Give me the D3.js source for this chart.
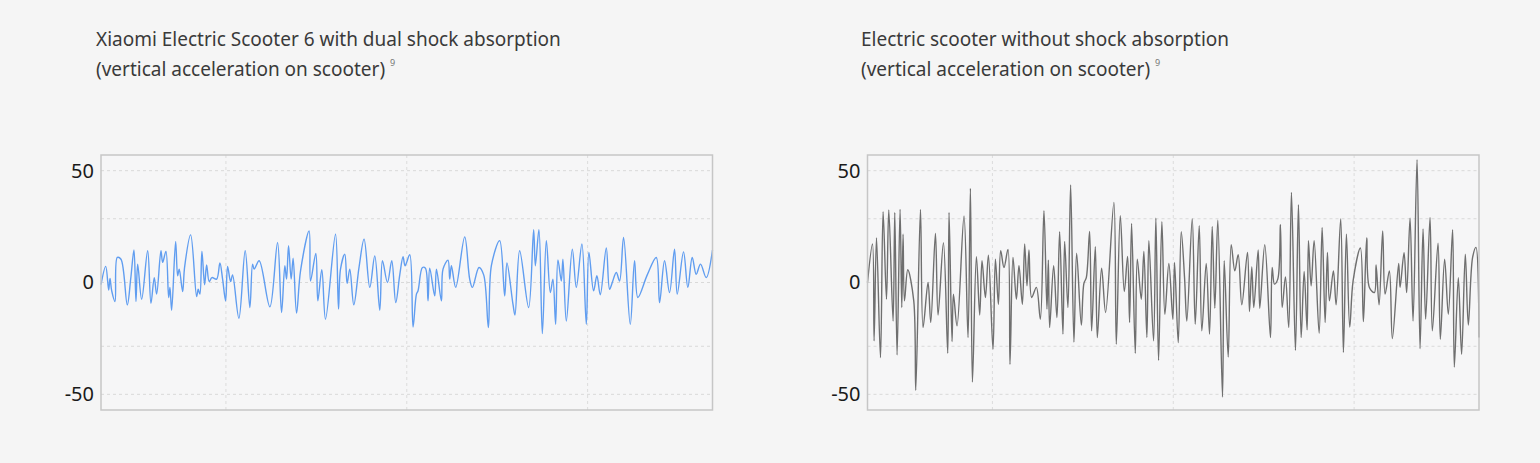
<!DOCTYPE html>
<html>
<head>
<meta charset="utf-8">
<script src="https://cdn.jsdelivr.net/npm/d3@7"></script>
<style>
  html, body { margin: 0; padding: 0; background: #f5f5f5; }
  svg { display: block; }
  .title { font-family: "Noto Sans", sans-serif; fill: #3a3a3a; }
  .tick text { font-family: "Noto Sans", sans-serif; font-size: 20px; fill: #1a1a1a; }
</style>
</head>
<body>
<div id="chart"></div>
<script>
// vertical acceleration (time in samples, value in m/s²)
const dualTime = [0, 4.7, 7.7, 9, 10.7, 14, 16.3, 20, 26.3, 29.7, 33, 35, 36.7, 40.7, 46.7, 50, 53.3, 55.7, 60, 61.7,
  65, 67.7, 69, 70.7, 74.7, 76.7, 78.3, 81.7, 83.7, 89.7, 95.7, 97.3, 99, 101, 103.7, 105.7, 108.3, 111, 115.7, 119,
  121.7, 124.7, 126.7, 129.7, 131.7, 138, 144.3, 149, 151.7, 153.3, 158.3, 169, 176.7, 180.7, 184, 185.7, 187.7, 190.3, 192.3, 195.7,
  199.7, 208.3, 209.7, 215, 217, 221, 224.7, 234.7, 237.7, 239.7, 244, 246.3, 249, 253, 258.3, 263.3, 269, 274, 279, 281.7,
  286.7, 291, 295, 299, 302.3, 304.3, 309, 312.3, 315.7, 317.3, 321.7, 324.7, 327.3, 329, 334, 335.7, 340.7, 342.3, 347.3, 349,
  350.7, 355, 364, 369, 371.7, 378.3, 383, 387.7, 390.7, 399, 404, 406.3, 412.3, 414.3, 419, 428, 433, 434.7, 438.3, 441.7,
  445.7, 449.7, 452.3, 455, 457.3, 460.7, 462.3, 465.7, 471.7, 475.7, 481.3, 485.7, 488.3, 493, 496.3, 499.7, 505.7, 509, 511.7, 515.7,
  519, 523, 529.7, 534, 537.3, 546.7, 555.7, 559, 564, 569, 574, 576.7, 583, 587.3, 591.7, 595.7, 600, 605.7, 612]
const dualValue = [-1, 7.2, -3.4, 1.8, -3.7, -8.5, 11.2, 10.4, -10, 1.5, 14.5, -8.5, 8.2, -7.5, 14.2, -9.3, 2.2, -5.2, 14.2, 9,
  13.9, -6.7, -2.2, -12.4, 18.4, 3, 6, -4, 7, 21.3, -6.3, -3, -5.2, 13.9, -1, 7.9, 0.4, 2.2, 1.5, 8.7,
  1.5, -8.2, 7.2, 0.4, 3.4, -16, 14.2, -11.2, 8.2, 6, 9.7, -10.9, 17.9, -13.4, 7.5, 1.5, 16.4, 1.5, 10.9, -13.7,
  5.2, 23.1, 0.7, 13, -8.2, 5.7, -16.4, 21.6, -11.9, 6, 12.7, -0.4, 6, -10, 7, 19.4, -2.2, 11.9, -12.4, 9.7,
  0, 9.7, -9, 3.4, 11.5, 7.5, 12.4, -19.9, -5.2, -3.7, 6.7, 6.4, -8.2, 6.4, -6, 6, -8.2, 6, 10, 1.5,
  7.5, -2.2, 20.4, 1.5, -2.2, 6.7, 3.4, -20.1, 7.5, 18.7, -6, 8.7, -9.7, -14.5, 14.2, -11.2, 23.6, 7.5, 23.6, -22.8,
  18.7, -4.5, 1.5, -18.7, 10.1, 0.7, 10.4, -17.2, 14.9, -2.2, 17.2, -18.7, 13.4, -3.7, 3, -5.5, 15.4, -3, 0, 4.5,
  0.7, 20.1, -18.7, 9.7, -6.7, 3.4, 11.2, -9, 9.7, -4.5, 14.9, -5.2, 13.7, -2.2, 11.2, 3.7, 8.2, 2.2, 14.5]

const plainTime = [0, 5, 6.6, 9, 13, 15.6, 19, 21.3, 25.6, 27.3, 29.6, 32.6, 34.3, 35.6, 37, 40.3, 46.3, 48.3, 53, 55.6,
  60.6, 63.3, 68, 70.6, 76, 80.3, 81.6, 84.6, 86, 89.6, 96.6, 100.6, 103, 105, 109, 112.3, 114.6, 118, 121, 125.6,
  128, 131, 133.3, 136.6, 140.6, 142.6, 145.6, 149, 151.6, 155, 157.3, 159.6, 161.6, 164.3, 169, 173, 176.6, 179.6, 181, 182.3,
  186.3, 189.6, 192.3, 195.6, 197.3, 200.6, 203.3, 206.6, 209.3, 214, 216.6, 219, 222.3, 224.3, 228, 230, 234.3, 238.3, 246.6, 249,
  253, 257, 260.3, 262.3, 264.3, 268, 270, 274, 276.6, 279.6, 281.6, 286.3, 288.6, 291.3, 294.6, 297.6, 301.6, 305.6, 307.3, 311,
  314, 317.3, 319.6, 325, 328, 332, 334.6, 339, 342.3, 345, 347.6, 350.6, 355.3, 357, 361, 364, 367.6, 371, 374.6, 380.3,
  382.3, 384.6, 386.6, 391, 392.6, 397.6, 403.3, 405, 407.3, 410.6, 413.3, 415, 418.3, 421.6, 424.3, 428.3, 431.3, 434, 437, 440,
  441.3, 444, 447, 452, 455, 458, 460.3, 462.3, 466.3, 469, 473.6, 476.3, 479.3, 482.6, 486, 493.3, 496.3, 499.6, 502.3, 507.3,
  509, 512, 515.6, 518, 522.3, 525.3, 531.6, 533, 537, 539.6, 543, 546, 550, 553, 556, 558.6, 563, 565.3, 571, 573.3,
  577.6, 581.3, 585.6, 587.3, 591.3, 594.6, 598.3, 601.3, 605.6, 609, 612]
const plainValue = [0, 17.2, -26.1, 19.9, -33.6, 31.6, -7.5, 32.4, -17.2, 31.3, -32.4, 32.7, -11.2, 21.6, -8.2, 5.7, -8.2, -48.2, 32.7, -20.1,
  0, -17.9, 21.9, -14.5, 17.8, -31.6, 31.3, -26.4, -5.2, -19.4, 29.7, -24.6, 42.1, -44.5, 11.5, -14.5, 9.7, -6.7, 12.2, -29.9,
  10.4, -9.7, 14.2, 6.7, 14.8, -36.6, 11.2, -7.5, 7.5, -9.7, 17.2, -1.5, 14.6, -6.7, -2.2, -16.4, 32.1, -11.9, 10, -20.1,
  7.5, -15.7, 22.7, -23.1, 18.4, -11.2, 43.6, -26.6, 13.1, -19, -0.4, 2.2, 22.8, -21.6, 16, -24.6, 6.4, -13.4, 35.8, -27.6,
  29.9, -4, 11.6, -17.9, 26.4, -31.6, 10.4, -7.5, 13.9, -24.6, 18.7, -26.1, 28.7, -34.8, 27.2, -14.2, 8.5, -16.4, 9, -26.9,
  22.7, 2.2, -17.2, 28.4, -18.7, 25.4, -21.6, 8.5, -23.1, 25.1, -11.5, 27.9, -51.2, 9.7, -33.3, 16.9, 5.2, 12.4, -10, 13.4,
  -13, 7, -11.2, 14.6, -11.5, 16.9, -24.6, 6.7, -0.7, 1.5, 25.8, -11.2, 2.5, -20.1, 40.3, -30.3, 34.8, -24.6, 4.9, -21.2,
  18.7, -1.5, 18.7, -22.7, 24.6, -17.9, 13.4, -8.2, 5.2, -10, 28.4, -31.3, 21.6, -19.9, 0.7, 15.4, -17.5, 19.9, -2.2, -4.5,
  7.9, -10, 23.1, -5.2, 5.2, -25.1, 8.5, -2.2, 13.3, -4.5, 28.7, -17.2, 54.9, -29.6, 23.9, -16.4, 29.1, -21.6, 17.6, -25.4,
  10.4, -14.2, 23.6, -37.8, 2.2, -32.1, 12.7, -19, 11.2, 15.7, -24.6]

const yDomain = [-57, 57]
const xDomain = [0, 612]
const yTickLabels = [50, 0, -50]
const yGridValues = [50, 28.5, 0, -28.5, -50]
const xGridValues = [125, 306, 487]

const panels = [
  { title: 'Xiaomi Electric Scooter 6 with dual shock absorption', time: dualTime, value: dualValue, color: '#609df0', left: 101, titleX: 96 },
  { title: 'Electric scooter without shock absorption', time: plainTime, value: plainValue, color: '#6f6f6f', left: 867.5, titleX: 861 }
]
const subtitle = '(vertical acceleration on scooter)'
const note = '9'

const W = 1540, H = 463
const plotW = 611.5, plotTop = 155, plotBottom = 410

const svg = d3.select('#chart').append('svg')
  .attr('width', W)
  .attr('height', H)

panels.forEach(p => drawPanel(p))

function drawPanel(p) {
  let x = d3.scaleLinear().domain(xDomain).range([p.left, p.left + plotW])
  let y = d3.scaleLinear().domain(yDomain).range([plotBottom, plotTop])

  // titles
  let t = svg.append('g')
  t.append('text').attr('class', 'title')
    .attr('x', p.titleX).attr('y', 46)
    .style('font-size', '19px')
    .text(p.title)
  let sub = t.append('text').attr('class', 'title')
    .attr('x', p.titleX).attr('y', 76)
    .style('font-size', '19px')
    .text(subtitle)
  let subW = sub.node().getComputedTextLength()
  t.append('text')
    .attr('x', p.titleX + subW + 5).attr('y', 66)
    .style('font-family', '"Noto Sans", sans-serif')
    .style('font-size', '9px')
    .style('fill', '#777')
    .text(note)

  let g = svg.append('g')

  g.append('rect')
    .attr('x', p.left).attr('y', plotTop)
    .attr('width', plotW).attr('height', plotBottom - plotTop)
    .attr('fill', '#f6f6f7')

  g.selectAll('.hgrid')
    .data(yGridValues)
    .enter().append('line')
    .attr('class', 'hgrid')
    .attr('x1', p.left).attr('x2', p.left + plotW)
    .attr('y1', d => y(d)).attr('y2', d => y(d))
    .attr('stroke', '#d9d9d9')
    .attr('stroke-dasharray', '3,3')

  g.selectAll('.vgrid')
    .data(xGridValues)
    .enter().append('line')
    .attr('class', 'vgrid')
    .attr('x1', d => x(d)).attr('x2', d => x(d))
    .attr('y1', plotTop).attr('y2', plotBottom)
    .attr('stroke', '#dcdcdc')
    .attr('stroke-dasharray', '3,3')

  let data = p.time.map((tm, i) => ({ t: tm, v: p.value[i] }))
  let line = d3.line()
    .x(d => x(d.t))
    .y(d => y(d.v))
    .curve(d3.curveCatmullRom.alpha(0.5))

  g.append('path')
    .datum(data)
    .attr('fill', 'none')
    .attr('stroke', p.color)
    .attr('stroke-width', 1.4)
    .attr('stroke-linejoin', 'round')
    .attr('d', line)

  g.append('rect')
    .attr('x', p.left).attr('y', plotTop)
    .attr('width', plotW).attr('height', plotBottom - plotTop)
    .attr('fill', 'none')
    .attr('stroke', '#c6c6c6')
    .attr('stroke-width', 1.5)

  let axis = g.append('g')
    .attr('transform', `translate(${p.left},0)`)
    .call(d3.axisLeft(y).tickValues(yTickLabels).tickSize(0).tickPadding(7)
      .tickFormat(d => d.toString()))
  axis.select('.domain').remove()
}
</script>
</body>
</html>
